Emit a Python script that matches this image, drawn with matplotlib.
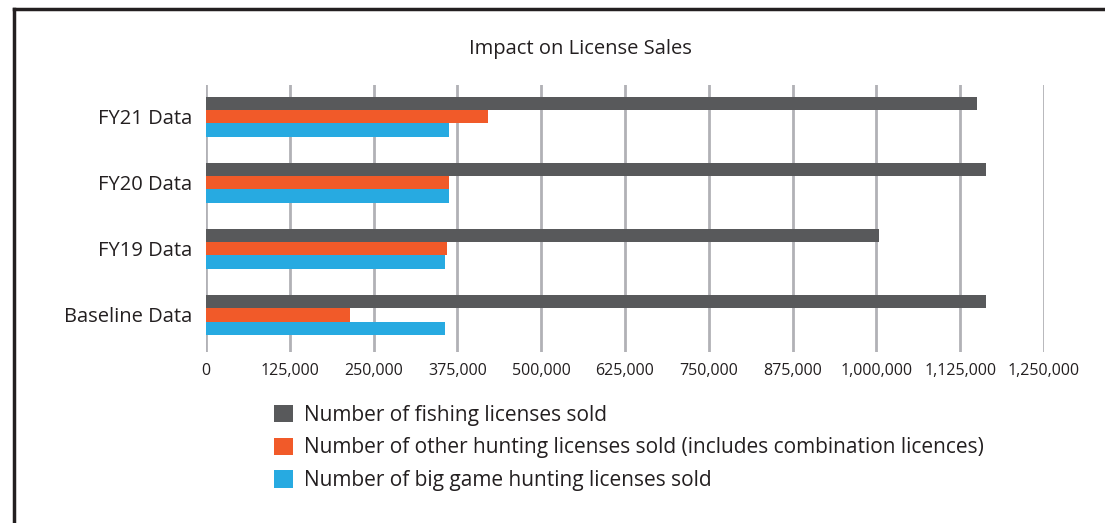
import matplotlib.pyplot as plt
from matplotlib.lines import Line2D
from matplotlib.patches import Patch
from matplotlib.ticker import FuncFormatter

# data
categories = ["Baseline Data", "FY19 Data", "FY20 Data", "FY21 Data"]
fishing = [1163000, 1004000, 1163000, 1150000]
other_hunting = [215000, 360000, 363000, 420000]
big_game = [356000, 356000, 363000, 363000]
series_names = [
    "Number of fishing licenses sold",
    "Number of other hunting licenses sold (includes combination licences)",
    "Number of big game hunting licenses sold",
]
colors = ["#58595B", "#F15A29", "#27AAE1"]
x_ticks = list(range(0, 1250001, 125000))

plt.rcParams["font.family"] = ["Open Sans", "DejaVu Sans"]

fig = plt.figure(figsize=(11.05, 5.23), dpi=100)
ax = fig.add_axes([0.1864, 0.327, 0.7584, 0.5105])

pos = list(range(len(categories)))
h = 0.2
ax.barh([p + h for p in pos], fishing, height=h, color=colors[0], zorder=3)
ax.barh(pos, other_hunting, height=h, color=colors[1], zorder=3)
ax.barh([p - h for p in pos], big_game, height=h, color=colors[2], zorder=3)

ax.set_xlim(0, 1250000)
ax.set_ylim(-0.56, 3.48)
ax.set_xticks(x_ticks)
ax.xaxis.set_major_formatter(FuncFormatter(lambda v, _: f"{int(v):,}"))
ax.set_yticks(pos)
ax.set_yticklabels(categories, fontsize=14.5, color="#231F20")
ax.tick_params(axis="x", labelsize=11.5, colors="#231F20", length=0, pad=8)
ax.tick_params(axis="y", length=0, pad=10)
ax.grid(axis="x", color="#B1B1B6", linewidth=2, zorder=0)
for s in ax.spines.values():
    s.set_visible(False)

fig.text(0.525, 0.906, "Impact on License Sales", ha="center", va="center",
         fontsize=14.5, color="#231F20")

handles = [Patch(facecolor=c, edgecolor="none") for c in colors]
fig.legend(handles, series_names, loc="upper left", bbox_to_anchor=(0.248, 0.226),
           frameon=False, fontsize=15, handlelength=0.9, handleheight=0.9,
           handletextpad=0.55, labelspacing=0.56, labelcolor="#231F20",
           borderaxespad=0, borderpad=0)

# frame lines on the left and top edges only
fig.add_artist(Line2D([14 / 1105, 14 / 1105], [0, 1 - 9 / 523], color="#231F20",
                      linewidth=2.5, transform=fig.transFigure))
fig.add_artist(Line2D([14 / 1105, 1], [1 - 9 / 523, 1 - 9 / 523], color="#231F20",
                      linewidth=2.5, transform=fig.transFigure))

fig.savefig("out.png", dpi=100)
